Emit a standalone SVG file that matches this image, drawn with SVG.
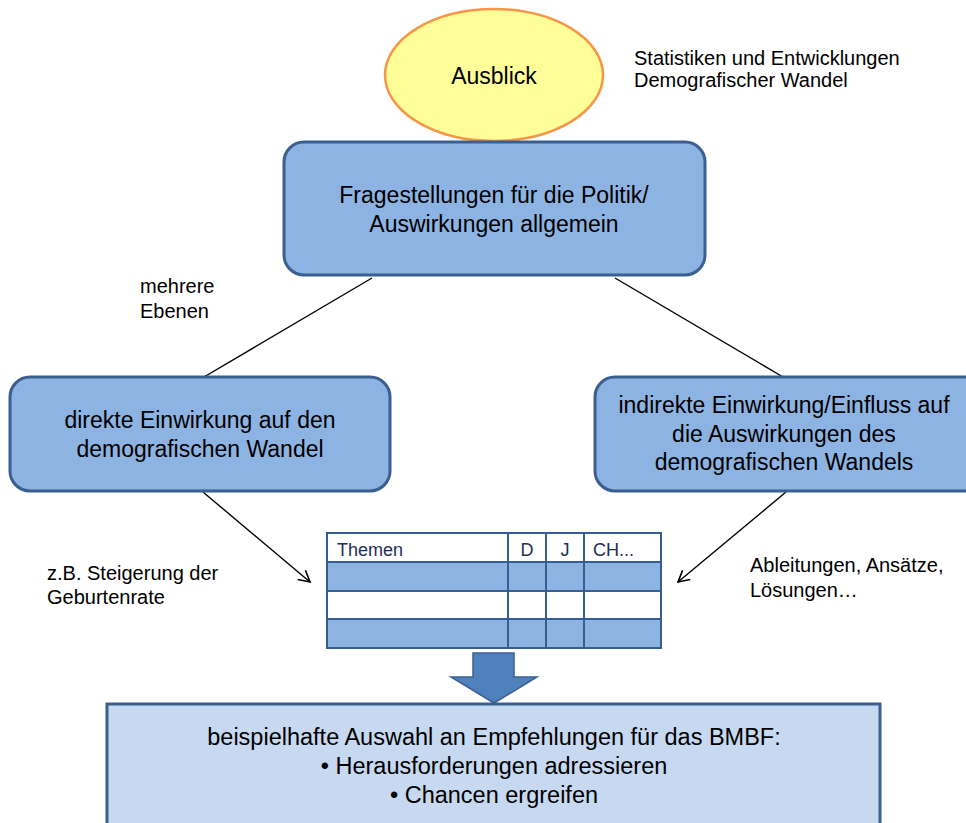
<svg xmlns="http://www.w3.org/2000/svg" width="966" height="823" viewBox="0 0 966 823">
<defs>
<style>
.box{fill:#8db3e2;stroke:#3b5f8f;stroke-width:3}
.t{font-family:"Liberation Sans",Arial,sans-serif;fill:#000}
.big{font-size:23px;text-anchor:middle}
.sm{font-size:20px}
.conn{stroke:#000;stroke-width:1.4;fill:none}
.tbl{stroke:#365f91;stroke-width:2}
.th{font-size:18px;fill:#1f2f55}
</style>
<marker id="ah" markerWidth="14" markerHeight="14" refX="12" refY="7" orient="auto" markerUnits="userSpaceOnUse">
<path d="M1,1 L12,7 L1,13" fill="none" stroke="#000" stroke-width="1.6"/>
</marker>
</defs>
<rect width="966" height="823" fill="#fff"/>

<g id="connectors">
<line class="conn" x1="372" y1="278" x2="204" y2="377"/>
<line class="conn" x1="615" y1="278" x2="783" y2="377"/>
<line class="conn" x1="203" y1="492" x2="310" y2="582" marker-end="url(#ah)"/>
<line class="conn" x1="786" y1="492" x2="678" y2="582" marker-end="url(#ah)"/>
</g>

<g id="ausblick">
<ellipse cx="494" cy="75" rx="109" ry="66" fill="#ffff99" stroke="#f79646" stroke-width="2.5"/>
<text class="t big" x="494" y="84">Ausblick</text>
</g>

<g id="note-top">
<text class="t sm" x="634" y="65">Statistiken und Entwicklungen</text>
<text class="t sm" x="634" y="87">Demografischer Wandel</text>
</g>

<g id="fragestellungen">
<rect class="box" x="284" y="142" width="421" height="133" rx="20"/>
<text class="t big" x="494" y="203">Fragestellungen für die Politik/</text>
<text class="t big" x="494" y="232">Auswirkungen allgemein</text>
</g>

<g id="note-ebenen">
<text class="t sm" x="140" y="293">mehrere</text>
<text class="t sm" x="140" y="318">Ebenen</text>
</g>

<g id="direkt">
<rect class="box" x="10" y="377" width="380" height="114" rx="20"/>
<text class="t big" x="200" y="428">direkte Einwirkung auf den</text>
<text class="t big" x="200" y="457">demografischen Wandel</text>
</g>

<g id="indirekt">
<rect class="box" x="595" y="377" width="390" height="114" rx="20"/>
<text class="t big" x="784" y="413">indirekte Einwirkung/Einfluss auf</text>
<text class="t big" x="784" y="442">die Auswirkungen des</text>
<text class="t big" x="784" y="470">demografischen Wandels</text>
</g>

<g id="note-zb">
<text class="t sm" x="47" y="580">z.B. Steigerung der</text>
<text class="t sm" x="47" y="604">Geburtenrate</text>
</g>

<g id="note-ableitungen">
<text class="t sm" x="750" y="572">Ableitungen, Ansätze,</text>
<text class="t sm" x="750" y="597">Lösungen…</text>
</g>

<g id="tabelle">
<rect x="327" y="533" width="334" height="115" fill="#fff"/>
<rect x="327" y="562" width="334" height="29" fill="#8db3e2"/>
<rect x="327" y="619" width="334" height="29" fill="#8db3e2"/>
<rect class="tbl" x="327" y="533" width="334" height="115" fill="none"/>
<line class="tbl" x1="327" y1="562" x2="661" y2="562"/>
<line class="tbl" x1="327" y1="591" x2="661" y2="591"/>
<line class="tbl" x1="327" y1="619" x2="661" y2="619"/>
<line class="tbl" x1="508" y1="533" x2="508" y2="648"/>
<line class="tbl" x1="546" y1="533" x2="546" y2="648"/>
<line class="tbl" x1="584" y1="533" x2="584" y2="648"/>
<text class="t th" x="337" y="556">Themen</text>
<text class="t th" x="527" y="556" text-anchor="middle">D</text>
<text class="t th" x="565" y="556" text-anchor="middle">J</text>
<text class="t th" x="593" y="556">CH...</text>
</g>

<g id="blockpfeil">
<path d="M473,653 L514,653 L514,677 L537,677 L494,703 L451,677 L473,677 Z" fill="#4f81bd" stroke="#3b5f8f" stroke-width="1.5"/>
</g>

<g id="empfehlungen">
<rect x="107" y="704" width="773" height="130" fill="#c6d9f1" stroke="#3b5f8f" stroke-width="3"/>
<text class="t big" x="494" y="745" style="font-size:23.5px">beispielhafte Auswahl an Empfehlungen für das BMBF:</text>
<text class="t big" x="494" y="774" style="font-size:23.5px">• Herausforderungen adressieren</text>
<text class="t big" x="494" y="803" style="font-size:23.5px">• Chancen ergreifen</text>
</g>
</svg>
